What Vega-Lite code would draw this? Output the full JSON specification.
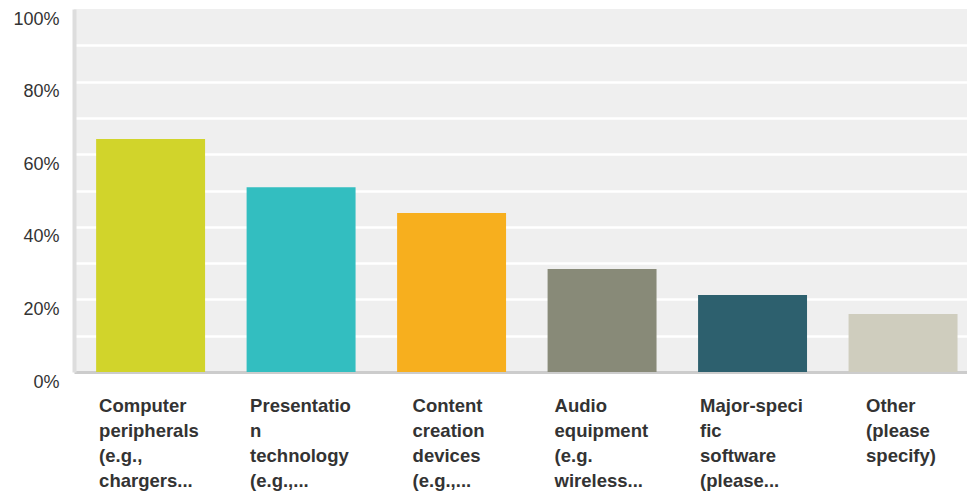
{
  "$schema": "https://vega.github.io/schema/vega-lite/v6.json",
  "autosize": {"type": "none"},
  "padding": {"left": 74, "top": 9, "right": 0, "bottom": 121},
  "width": 893,
  "height": 363,
  "background": "white",
  "config": {
    "view": {"fill": "#efefef", "stroke": null},
    "font": "Liberation Sans"
  },
  "data": {
    "values": [
      {"category": "Computer|peripherals|(e.g.,|chargers...", "pct": 0.642},
      {"category": "Presentatio|n|technology|(e.g.,...", "pct": 0.509},
      {"category": "Content|creation|devices|(e.g.,...", "pct": 0.438},
      {"category": "Audio|equipment|(e.g.|wireless...", "pct": 0.284},
      {"category": "Major-speci|fic|software|(please...", "pct": 0.212},
      {"category": "Other|(please|specify)", "pct": 0.160}
    ]
  },
  "mark": {"type": "bar"},
  "encoding": {
    "x": {
      "field": "category",
      "type": "nominal",
      "sort": null,
      "scale": {"paddingInner": 0.276, "paddingOuter": 0.105, "align": 0.7},
      "axis": {
        "title": null,
        "ticks": false,
        "domainColor": "#cccccc",
        "domainWidth": 3,
        "labelAngle": 0,
        "labelAlign": "left",
        "labelBaseline": "top",
        "labelPadding": 24,
        "labelFontSize": 18.5,
        "labelFontWeight": "bold",
        "labelColor": "#333333",
        "labelLineHeight": 25,
        "labelLimit": 0,
        "labelExpr": "split(datum.label, '|')",
        "labelOffset": {"expr": "indexof(datum.value, 'Computer') == 0 ? -51.5 : indexof(datum.value, 'Presentatio') == 0 ? -51 : indexof(datum.value, 'Content') == 0 ? -39 : indexof(datum.value, 'Audio') == 0 ? -47.5 : indexof(datum.value, 'Major') == 0 ? -52.5 : -37"}
      }
    },
    "y": {
      "field": "pct",
      "type": "quantitative",
      "scale": {"domain": [0, 1], "nice": false},
      "axis": {
        "title": null,
        "values": [0, 0.1, 0.2, 0.3, 0.4, 0.5, 0.6, 0.7, 0.8, 0.9, 1],
        "ticks": false,
        "domainColor": "#dddddd",
        "domainWidth": 4,
        "grid": true,
        "gridColor": {"expr": "datum.value == 0 || datum.value == 1 ? 'transparent' : 'white'"},
        "gridWidth": 2.5,
        "labelExpr": "round(datum.value * 100) % 20 == 0 ? format(datum.value, '.0%') : ''",
        "labelFontSize": 18,
        "labelColor": "#333333",
        "labelPadding": 15,
        "labelOffset": 10,
        "labelBaseline": "middle"
      }
    },
    "color": {
      "field": "category",
      "type": "nominal",
      "sort": null,
      "scale": {"range": ["#d1d42b", "#33bec0", "#f7af1e", "#888a78", "#2d606e", "#cfcdbe"]},
      "legend": null
    }
  }
}
